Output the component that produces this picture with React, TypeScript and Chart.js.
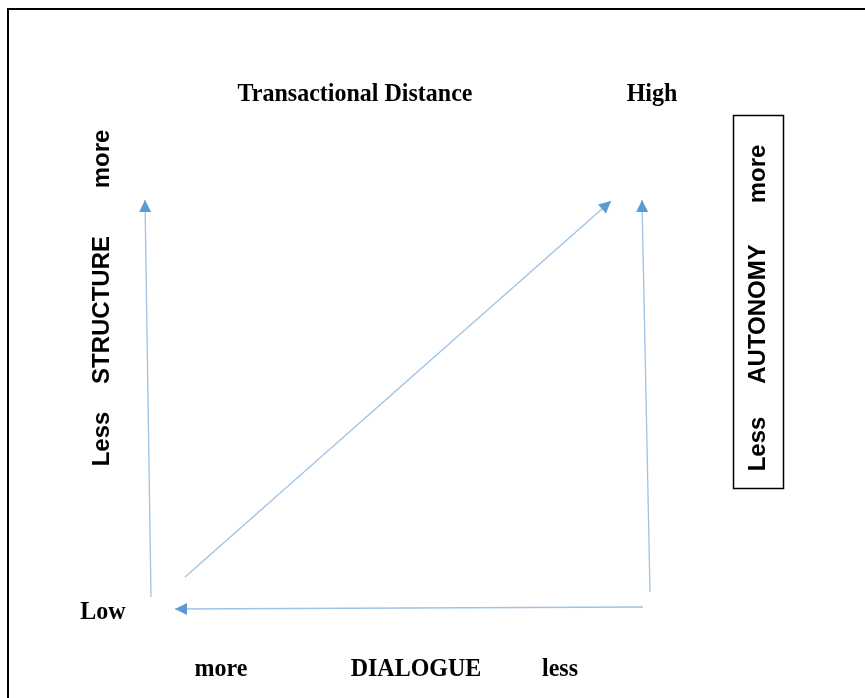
import React, { useEffect, useRef } from "react";
import { Chart, registerables } from "chart.js";

Chart.register(...registerables);

// Diagram space: x = dialogue axis position, y = structure axis position (same units as the figure)
const structureArrow = [
  { x: 151, y: 597 },
  { x: 145, y: 200 },
];
const distanceArrow = [
  { x: 185, y: 577 },
  { x: 611, y: 201 },
];
const autonomyArrow = [
  { x: 650, y: 592 },
  { x: 642, y: 200 },
];
const dialogueArrow = [
  { x: 643, y: 607 },
  { x: 175, y: 609 },
];

const titleLabels = ["Transactional Distance", "High"];
const lowLabel = "Low";
const dialogueLabels = ["more", "DIALOGUE", "less"];
const structureLabels = ["Less", "STRUCTURE", "more"];
const autonomyLabels = ["Less", "AUTONOMY", "more"];

const lineColor = "#9DC3E6";
const headColor = "#5B9BD5";

const W = 865;
const H = 698;

const arrowHeads = {
  id: "arrowHeads",
  afterDatasetsDraw(chart: any) {
    const { ctx, scales } = chart;
    chart.data.datasets.forEach((ds: any) => {
      const pts = ds.data;
      const a = pts[pts.length - 2];
      const b = pts[pts.length - 1];
      const x1 = scales.x.getPixelForValue(a.x);
      const y1 = scales.y.getPixelForValue(a.y);
      const x2 = scales.x.getPixelForValue(b.x);
      const y2 = scales.y.getPixelForValue(b.y);
      const ang = Math.atan2(y2 - y1, x2 - x1);
      const len = 12;
      const hw = 6;
      ctx.save();
      ctx.translate(x2, y2);
      ctx.rotate(ang);
      ctx.beginPath();
      ctx.moveTo(0, 0);
      ctx.lineTo(-len, -hw);
      ctx.lineTo(-len, hw);
      ctx.closePath();
      ctx.fillStyle = headColor;
      ctx.fill();
      ctx.restore();
    });
  },
};

const decorations = {
  id: "decorations",
  beforeDraw(chart: any) {
    const { ctx } = chart;
    ctx.save();
    ctx.fillStyle = "#ffffff";
    ctx.fillRect(0, 0, W, H);
    ctx.strokeStyle = "#000000";
    ctx.lineWidth = 2;
    ctx.beginPath();
    ctx.moveTo(8, H);
    ctx.lineTo(8, 9);
    ctx.lineTo(W, 9);
    ctx.stroke();
    ctx.lineWidth = 1.5;
    ctx.strokeRect(733.5, 115.5, 50, 373);
    ctx.restore();
  },
  afterDraw(chart: any) {
    const { ctx } = chart;
    ctx.save();
    ctx.fillStyle = "#000000";
    ctx.textBaseline = "alphabetic";
    ctx.textAlign = "center";
    ctx.font = "bold 24px 'Liberation Serif', 'Times New Roman', serif";
    const stext = (t: string, x: number, y: number) => {
      ctx.save();
      ctx.translate(x, y);
      ctx.scale(1, 1.08);
      ctx.fillText(t, 0, 0);
      ctx.restore();
    };
    stext(titleLabels[0], 355, 101);
    stext(titleLabels[1], 652, 101);
    stext(lowLabel, 103, 619);
    stext(dialogueLabels[0], 221, 676);
    stext(dialogueLabels[1], 416, 676);
    stext(dialogueLabels[2], 560, 676);

    ctx.font = "bold 24px 'Liberation Sans', Arial, sans-serif";
    const vtext = (t: string, x: number, y: number) => {
      ctx.save();
      ctx.translate(x, y);
      ctx.rotate(-Math.PI / 2);
      ctx.fillText(t, 0, 0);
      ctx.restore();
    };
    vtext(structureLabels[0], 109, 439);
    vtext(structureLabels[1], 109, 310);
    vtext(structureLabels[2], 109, 159);
    vtext(autonomyLabels[0], 765, 444);
    vtext(autonomyLabels[1], 765, 314);
    vtext(autonomyLabels[2], 765, 174);
    ctx.restore();
  },
};

export default function App() {
  const ref = useRef<HTMLCanvasElement>(null);
  useEffect(() => {
    if (!ref.current) return;
    const mk = (label: string, data: any[]) => ({
      label,
      data,
      showLine: true,
      borderColor: lineColor,
      borderWidth: 1.3,
      pointRadius: 0,
      fill: false,
    });
    const chart = new Chart(ref.current, {
      type: "scatter",
      data: {
        datasets: [
          mk("structure", structureArrow),
          mk("distance", distanceArrow),
          mk("autonomy", autonomyArrow),
          mk("dialogue", dialogueArrow),
        ],
      },
      options: {
        responsive: false,
        animation: false,
        devicePixelRatio: 1,
        layout: { padding: 0 },
        plugins: { legend: { display: false }, tooltip: { enabled: false } },
        scales: {
          x: { type: "linear", min: 0, max: W, display: false },
          y: { type: "linear", min: 0, max: H, reverse: true, display: false },
        },
      },
      plugins: [decorations, arrowHeads],
    });
    return () => chart.destroy();
  }, []);
  return (
    <div style={{ position: "absolute", left: 0, top: 0, width: W, height: H }}>
      <canvas ref={ref} width={W} height={H} style={{ display: "block" }} />
    </div>
  );
}
